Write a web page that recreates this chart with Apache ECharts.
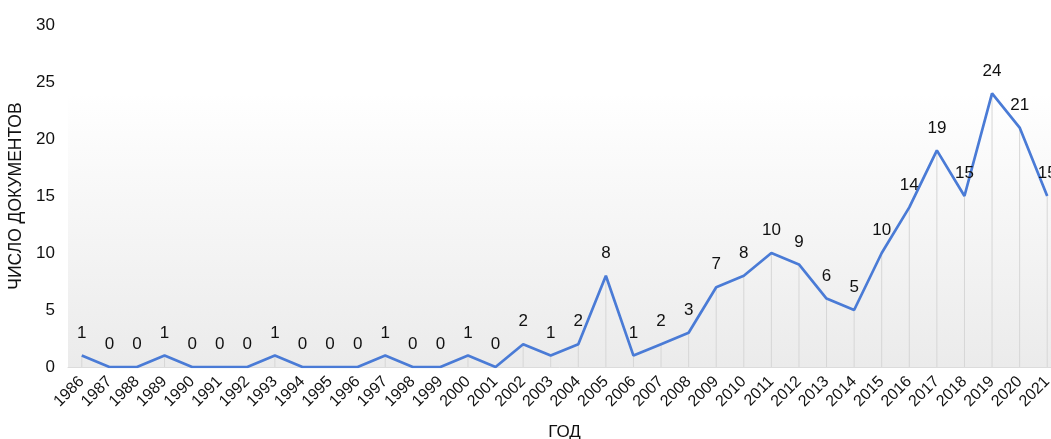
<!DOCTYPE html>
<html>
<head>
<meta charset="utf-8">
<script src="https://cdn.jsdelivr.net/npm/echarts@6/dist/echarts.min.js"></script>
<style>
  html, body { margin: 0; padding: 0; background: #ffffff; }
  #chart { width: 1051px; height: 439px; }
</style>
</head>
<body>
<div id="chart"></div>
<script>
// Publication counts per year
const years = ['1986','1987','1988','1989','1990','1991','1992','1993','1994','1995','1996','1997',
  '1998','1999','2000','2001','2002','2003','2004','2005','2006','2007','2008','2009','2010','2011',
  '2012','2013','2014','2015','2016','2017','2018','2019','2020','2021'];
const documents = [1,0,0,1,0,0,0,1,0,0,0,1,0,0,1,0,2,1,2,8,1,2,3,7,8,10,9,6,5,10,14,19,15,24,21,15];
const yTicks = { min: 0, max: 30, step: 5 };

const FONT = '"Liberation Sans", Arial, Helvetica, sans-serif';
const chart = echarts.init(document.getElementById('chart'));

chart.setOption({
  animation: false,
  grid: {
    left: 68, top: 25, width: 993, height: 342,
    outerBoundsMode: 'none',
    containLabel: false,
    show: true, borderWidth: 0,
    backgroundColor: new echarts.graphic.LinearGradient(0, 0, 0, 1, [
      { offset: 0, color: '#ffffff' },
      { offset: 0.2, color: '#ffffff' },
      { offset: 1, color: '#ebebeb' }
    ])
  },
  xAxis: {
    type: 'category',
    data: years,
    boundaryGap: true,
    name: 'ГОД',
    nameLocation: 'middle',
    nameGap: 57,
    nameTextStyle: { fontFamily: FONT, fontSize: 17, color: '#111111' },
    axisLine: { lineStyle: { color: '#dcdcdc', width: 1 } },
    axisTick: { show: false },
    axisLabel: { rotate: 45, interval: 0, margin: 12, fontFamily: FONT, fontSize: 16, color: '#111111' },
    splitLine: { show: false }
  },
  yAxis: {
    type: 'value',
    min: yTicks.min, max: yTicks.max, interval: yTicks.step,
    name: 'ЧИСЛО ДОКУМЕНТОВ',
    nameLocation: 'middle',
    nameGap: 32,
    nameTextStyle: { fontFamily: FONT, fontSize: 17.5, color: '#111111' },
    axisLine: { show: false },
    axisTick: { show: false },
    splitLine: { show: false },
    axisLabel: { margin: 13, fontFamily: FONT, fontSize: 17, color: '#111111' }
  },
  series: [
    {
      // thin drop lines from each point down to the axis
      type: 'bar',
      data: documents,
      barWidth: 1,
      silent: true,
      itemStyle: { color: '#d6d6d6' },
      z: 1
    },
    {
      type: 'line',
      data: documents,
      symbol: 'circle',
      symbolSize: 0,
      showSymbol: true,
      lineStyle: { color: '#4a7bd6', width: 2.7 },
      itemStyle: { color: '#4a7bd6' },
      label: {
        show: true,
        position: 'top',
        distance: 14,
        fontFamily: FONT,
        fontSize: 17,
        color: '#111111'
      },
      z: 3
    }
  ]
});
</script>
</body>
</html>
